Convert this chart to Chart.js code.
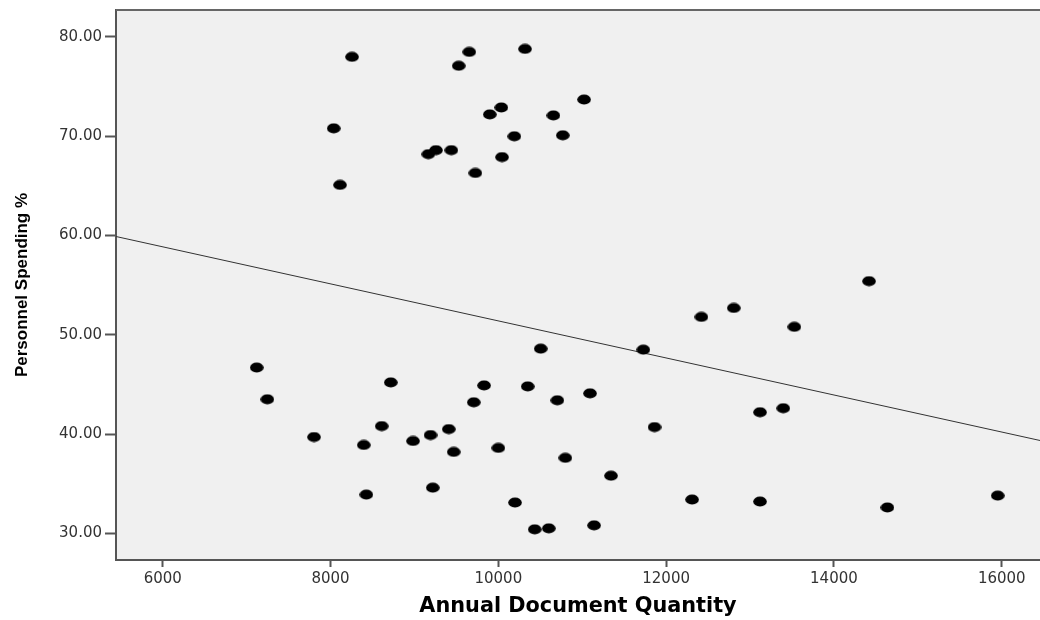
<!DOCTYPE html>
<html>
<head>
<meta charset="utf-8">
<script src="https://cdn.jsdelivr.net/npm/chart.js@4/dist/chart.umd.min.js"></script>
<style>
  html, body { margin: 0; padding: 0; background: #fff; overflow: hidden; }
  #wrap { width: 1040px; height: 620px; }
  #grafico { display: block; }
</style>
</head>
<body>
<div id="wrap"><canvas id="grafico" width="1040" height="620"></canvas></div>
<script>
// valores
const cantidadDocs = [
  8256, 8038, 8113, 9654, 9528, 10318, 11022, 10036, 9898, 10656, 10768, 10191,
  9440, 9257, 9166, 10044, 9726,
  7120, 7247, 7803, 8396, 8427, 8718, 8610, 8983, 9192, 9219, 9409, 9468, 9707,
  9830, 10000, 10199, 10350, 10434, 10601, 10505, 10703, 10799, 11093, 11141,
  11343, 11728, 11862, 12420, 12309, 12806, 13119, 13119, 13396, 13528, 14418,
  14637, 15952
];
const gastoPersonal = [
  78.0, 70.8, 65.1, 78.5, 77.1, 78.8, 73.7, 72.9, 72.2, 72.1, 70.1, 70.0,
  68.6, 68.6, 68.2, 67.9, 66.3,
  46.7, 43.5, 39.7, 38.9, 33.9, 45.2, 40.8, 39.3, 39.9, 34.6, 40.5, 38.2, 43.2,
  44.9, 38.6, 33.1, 44.8, 30.4, 30.5, 48.6, 43.4, 37.6, 44.1, 30.8,
  35.8, 48.5, 40.7, 51.8, 33.4, 52.7, 42.2, 33.2, 42.6, 50.8, 55.4,
  32.6, 33.8
];
// recta de ajuste (extremos del eje)
const lineaX = [5443, 16456];
const lineaY = [59.9, 39.35];

const ticksX = [6000, 8000, 10000, 12000, 14000, 16000];
const ticksY = [30, 40, 50, 60, 70, 80];

// punto eliptico como en SPSS
const punto = document.createElement('canvas');
punto.width = 14;
punto.height = 11;
const pctx = punto.getContext('2d');
pctx.fillStyle = '#000';
pctx.beginPath();
pctx.ellipse(7, 5.5, 6.8, 5.1, 0, 0, Math.PI * 2);
pctx.fill();

const fondoArea = {
  id: 'fondoArea',
  beforeDraw(chart) {
    const { ctx, chartArea: a } = chart;
    ctx.save();
    ctx.fillStyle = '#f0f0f0';
    ctx.fillRect(a.left, a.top, a.right - a.left, a.bottom - a.top);
    ctx.restore();
  },
  afterDraw(chart) {
    const { ctx, chartArea: a } = chart;
    ctx.save();
    ctx.strokeStyle = '#666';
    ctx.lineWidth = 2;
    ctx.beginPath();
    ctx.moveTo(a.left, a.top);
    ctx.lineTo(a.right, a.top);
    ctx.stroke();
    ctx.restore();
  }
};

const puntos = cantidadDocs.map((x, i) => ({ x: x, y: gastoPersonal[i] }));
const recta = lineaX.map((x, i) => ({ x: x, y: lineaY[i] }));

const ctx = document.getElementById('grafico').getContext('2d');
new Chart(ctx, {
  type: 'scatter',
  data: {
    datasets: [
      {
        label: 'Personnel Spending %',
        data: puntos,
        pointStyle: punto,
        pointRadius: 6,
        order: 1
      },
      {
        type: 'line',
        label: 'Fit',
        data: recta,
        borderColor: '#333',
        borderWidth: 1,
        pointRadius: 0,
        fill: false,
        order: 2
      }
    ]
  },
  plugins: [fondoArea],
  options: {
    responsive: false,
    animation: false,
    devicePixelRatio: 1,
    // sin autoPadding el area llega hasta el borde derecho
    layout: { autoPadding: false, padding: { top: 10, right: 0, bottom: 0, left: 0 } },
    plugins: {
      legend: { display: false },
      tooltip: { enabled: false }
    },
    scales: {
      x: {
        type: 'linear',
        min: lineaX[0],
        max: lineaX[1],
        afterBuildTicks: (s) => { s.ticks = ticksX.map(v => ({ value: v })); },
        afterFit: (s) => { s.height = 60; s.paddingLeft = 0; s.paddingRight = 0; },
        border: { color: '#555', width: 2 },
        grid: { drawOnChartArea: false, drawTicks: true, tickLength: 7, tickColor: '#555', tickWidth: 2 },
        ticks: {
          padding: 3,
          color: '#333',
          font: { family: 'DejaVu Sans', size: 15 },
          maxRotation: 0,
          callback: (v) => String(v)
        },
        title: {
          display: true,
          text: 'Annual Document Quantity',
          color: '#000',
          font: { family: 'DejaVu Sans', weight: 'bold', size: 20.8 },
          padding: { top: 0, bottom: 1 }
        }
      },
      y: {
        type: 'linear',
        min: 27.31,
        max: 82.72,
        afterBuildTicks: (s) => { s.ticks = ticksY.map(v => ({ value: v })); },
        afterFit: (s) => { s.width = 116; s.paddingTop = 0; s.paddingBottom = 0; },
        border: { color: '#555', width: 2 },
        grid: { drawOnChartArea: false, drawTicks: true, tickLength: 11, tickColor: '#555', tickWidth: 2 },
        ticks: {
          padding: 3,
          color: '#333',
          font: { family: 'DejaVu Sans', size: 15 },
          callback: (v) => v.toFixed(2)
        },
        title: {
          display: true,
          text: 'Personnel Spending %',
          color: '#000',
          font: { family: 'Liberation Sans', weight: 'bold', size: 17 },
          padding: { top: 12, bottom: 0 }
        }
      }
    }
  }
});
</script>
</body>
</html>
